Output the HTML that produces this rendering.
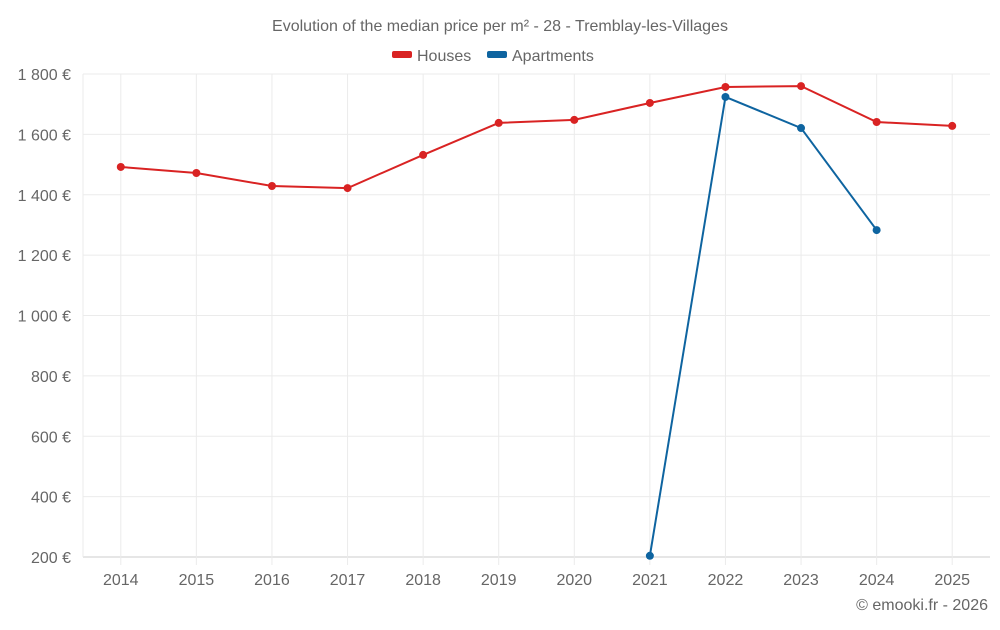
<!DOCTYPE html>
<html><head><meta charset="utf-8"><style>
body{margin:0;background:#fff;font-family:"Liberation Sans",sans-serif;}
svg text{font-family:"Liberation Sans",sans-serif;fill:#666;}
</style></head><body>
<svg id="chart" width="1000" height="625">
<text x="500" y="31" text-anchor="middle" font-size="16">Evolution of the median price per m² - 28 - Tremblay-les-Villages</text>
<g>
<g><rect x="392" y="51" width="20" height="7" rx="2" fill="#d92323"/><text x="417" y="61" font-size="16">Houses</text></g>
<g><rect x="487" y="51" width="20" height="7" rx="2" fill="#0e64a0"/><text x="512" y="61" font-size="16">Apartments</text></g>
</g>
<g id="grid"></g><g id="axes"></g><g id="series"></g>
<text x="988" y="610" text-anchor="end" font-size="16">© emooki.fr - 2026</text>
</svg>
<script>
const years=["2014","2015","2016","2017","2018","2019","2020","2021","2022","2023","2024","2025"];
const houses=[1492,1472,1429,1422,1532,1638,1648,1704,1757,1760,1641,1628];
const apartments=[null,null,null,null,null,null,null,204,1724,1621,1283,null];
const yTicks=[200,400,600,800,1000,1200,1400,1600,1800];
const yTickLabels=["200 €","400 €","600 €","800 €","1 000 €","1 200 €","1 400 €","1 600 €","1 800 €"];
const L=83,R=990,T=74,B=557,ymin=200,ymax=1800;
const NS="http://www.w3.org/2000/svg";
const bw=(R-L)/years.length;
const x=i=>L+bw*(i+0.5);
const y=v=>B-(v-ymin)/(ymax-ymin)*(B-T);
function mk(t,a,p){const e=document.createElementNS(NS,t);for(const k in a)e.setAttribute(k,a[k]);p.appendChild(e);return e;}
const g=document.getElementById('grid'),ax=document.getElementById('axes'),s=document.getElementById('series');
yTicks.forEach((v,i)=>{
 const l=mk('line',{x1:L,x2:R,y1:y(v),y2:y(v),stroke:v===ymin?'#ccc':'#ebebeb'},g);
 
 
 const t=mk('text',{x:71,y:y(v)+6,'text-anchor':'end','font-size':16},ax);t.textContent=yTickLabels[i];
 
 
});
const le=mk('line',{x1:L,x2:L,y1:T,y2:B,stroke:'#ebebeb'},g);


years.forEach((yr,i)=>{
 const l=mk('line',{x1:x(i),x2:x(i),y1:T,y2:B+8,stroke:'#ebebeb'},g);
 
 
 const t=mk('text',{x:x(i),y:585,'text-anchor':'middle','font-size':16},ax);t.textContent=yr;
 
 });
function draw(arr,col,name){
 const pts=[];arr.forEach((v,i)=>{if(v!=null)pts.push([x(i),y(v)]);});
 const p=mk('polyline',{points:pts.map(q=>q.join(',')).join(' '),fill:'none',stroke:col,'stroke-width':2},s);
 
 
 pts.forEach(q=>{const c=mk('circle',{cx:q[0],cy:q[1],r:4,fill:col},s);
  
  });
}
draw(houses,'#d92323','houses');
draw(apartments,'#0e64a0','apartments');
</script>
</body></html>
